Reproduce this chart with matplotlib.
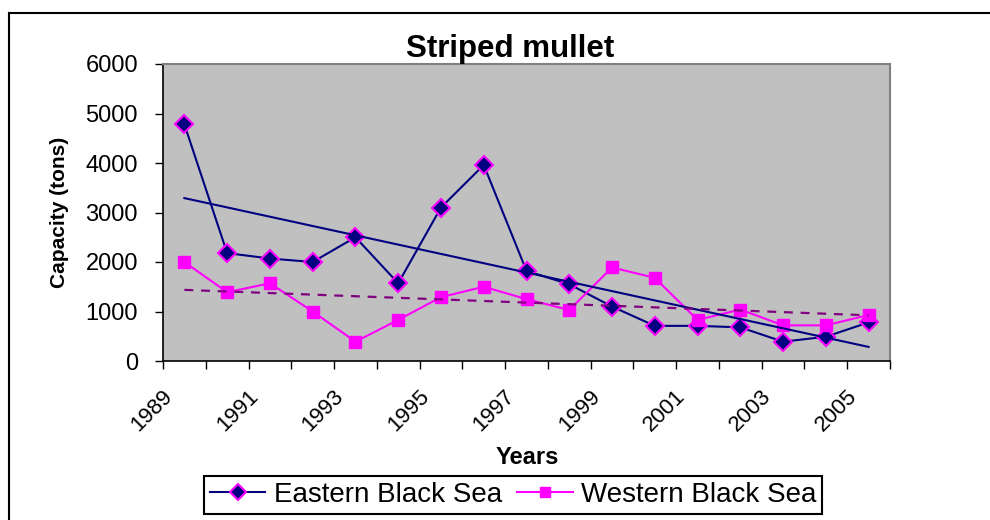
import numpy as np
import matplotlib
matplotlib.use("Agg")
import matplotlib.pyplot as plt
from matplotlib.lines import Line2D
from matplotlib.transforms import ScaledTranslation

plt.rcParams['font.family'] = ['Liberation Sans', 'DejaVu Sans']

years = [1989, 1990, 1991, 1992, 1993, 1994, 1995, 1996, 1997,
         1998, 1999, 2000, 2001, 2002, 2003, 2004, 2005]
eastern = [4780, 2180, 2070, 2000, 2500, 1570, 3100, 3960, 1820,
           1550, 1100, 710, 710, 680, 390, 490, 780]
western = [2000, 1390, 1570, 1000, 390, 830, 1290, 1500, 1250,
           1030, 1890, 1680, 830, 1040, 720, 720, 930]
title = "Striped mullet"
ylabel = "Capacity (tons)"
xlabel = "Years"
names = ["Eastern Black Sea", "Western Black Sea"]

W, H = 990, 520
fig = plt.figure(figsize=(W / 100, H / 100), dpi=100)
fig.patch.set_facecolor('white')

L, R, T, B = 163, 890, 64, 361
ax = fig.add_axes([L / W, 1 - B / H, (R - L) / W, (B - T) / H])
ax.set_facecolor('#C0C0C0')

n = len(years)
xc = np.arange(n) + 0.5

navy = '#000080'
mag = '#FF00FF'
purple = '#800080'

ax.plot(xc, eastern, color=navy, lw=1.5, marker='D', ms=9,
        mfc=navy, mec=mag, mew=1.5, zorder=3)
ax.plot(xc, western, color=mag, lw=1.5, marker='s', ms=8,
        mfc=mag, mec=mag, mew=1, zorder=3)

# linear trend lines
pe = np.polyfit(xc, eastern, 1)
pw = np.polyfit(xc, western, 1)
ax.plot(xc[[0, -1]], np.polyval(pe, xc[[0, -1]]), color=navy, lw=1.5, zorder=4)
ax.plot(xc[[0, -1]], np.polyval(pw, xc[[0, -1]]), color=purple, lw=1.6,
        dashes=(4, 3.5), zorder=4)

ax.set_xlim(0, n)
ax.set_ylim(0, 6000)
ax.set_yticks(np.arange(0, 6001, 1000))
ax.set_xticks(np.arange(0, n + 1))
ax.set_xticklabels([])
ax.set_xticks(xc[::2], minor=True)
ax.set_xticklabels([str(y) for y in years[::2]], minor=True)

ax.tick_params(axis='y', direction='out', length=6, width=1, pad=12,
               labelsize=17, colors='black')
ax.tick_params(axis='x', which='major', direction='out', length=6, width=1)
ax.tick_params(axis='x', which='minor', length=0, pad=23, labelsize=16)

off = ScaledTranslation(-15 / 100, 0, fig.dpi_scale_trans)
for lab in ax.get_xticklabels(minor=True):
    lab.set_rotation(45)
    lab.set_ha('right')
    lab.set_va('center')
    lab.set_rotation_mode('anchor')
    lab.set_transform(lab.get_transform() + off)

for s in ['left', 'bottom']:
    ax.spines[s].set_color('black')
    ax.spines[s].set_linewidth(1.2)
for s in ['top', 'right']:
    ax.spines[s].set_color('#808080')
    ax.spines[s].set_linewidth(1.5)

ax.set_ylabel(ylabel, fontsize=15, fontweight='bold', va='center')
ax.yaxis.set_label_coords((60 - L) / (R - L), 0.5)
ax.set_xlabel(xlabel, fontsize=17, fontweight='bold', va='center')
ax.xaxis.set_label_coords((527 - L) / (R - L), -(458 - B) / (B - T))

fig.text(510 / W, 1 - 57 / H, title, fontsize=22.5, fontweight='bold',
         ha='center', va='baseline')

handles = [
    Line2D([], [], color=navy, lw=1.5, marker='D', ms=8, mfc=navy, mec=mag, mew=1.5),
    Line2D([], [], color=mag, lw=1.5, marker='s', ms=7, mfc=mag, mec=mag, mew=1),
]
leg = fig.legend(handles, names, loc='center', bbox_to_anchor=(513 / W, 1 - 495 / H),
                 ncol=2, fontsize=20, handlelength=2.0, handletextpad=0.3,
                 columnspacing=0.55, borderpad=0.2, borderaxespad=0,
                 fancybox=False, framealpha=1, edgecolor='black')
leg.get_frame().set_linewidth(1.5)

# outer chart border (cut at right and bottom)
fig.add_artist(Line2D([9 / W, 9 / W], [0, 1 - 12.5 / H], color='black', lw=1.5,
                      transform=fig.transFigure))
fig.add_artist(Line2D([9 / W, 1], [1 - 12.5 / H, 1 - 12.5 / H], color='black', lw=1.5,
                      transform=fig.transFigure))

fig.savefig('out.png', dpi=100)
